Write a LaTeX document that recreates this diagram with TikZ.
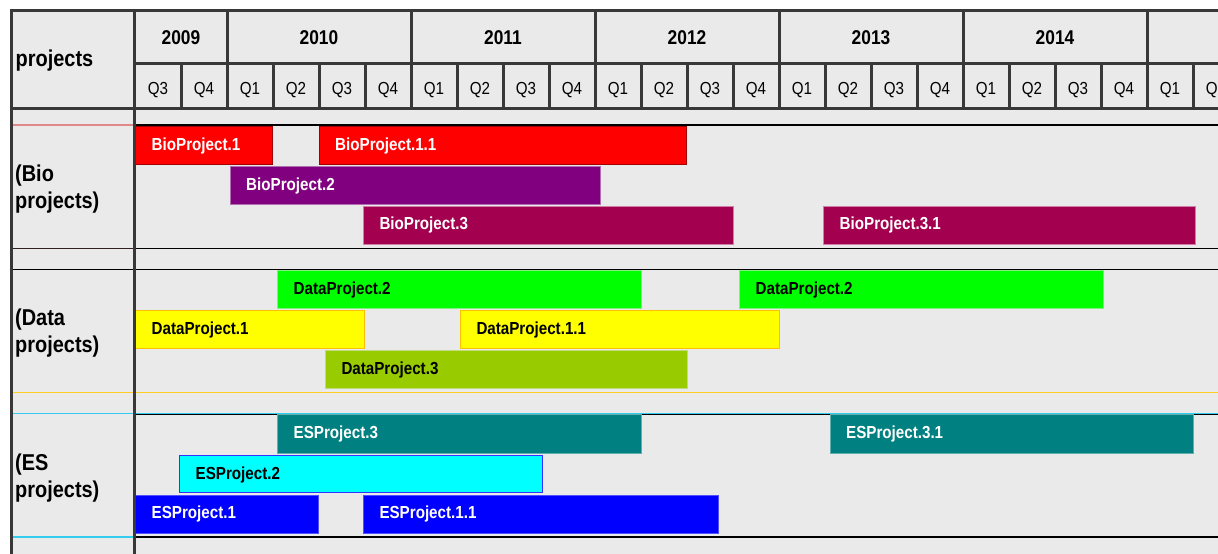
\documentclass[tikz,border=0pt]{standalone}
\usepackage{fontspec}
\newfontfamily\chartfont{Liberation Sans}[FakeStretch=0.87]
\definecolor{cellgray}{HTML}{EAEAEA}
\definecolor{gridgray}{HTML}{383838}
\definecolor{rulepink}{HTML}{E08888}
\definecolor{ruledark}{HTML}{302020}
\definecolor{ruleyellow}{HTML}{FFCC22}
\definecolor{rulecyan}{HTML}{33CCEE}
\definecolor{bioRed}{HTML}{FF0000}
\definecolor{bioRedEdge}{HTML}{A00000}
\definecolor{bioPurple}{HTML}{800080}
\definecolor{bioPurpleEdge}{HTML}{B070B0}
\definecolor{bioWine}{HTML}{A3004F}
\definecolor{bioWineEdge}{HTML}{D080A8}
\definecolor{dataGreen}{HTML}{00FF00}
\definecolor{dataGreenEdge}{HTML}{80F080}
\definecolor{dataYellow}{HTML}{FFFF00}
\definecolor{dataYellowEdge}{HTML}{FFC000}
\definecolor{dataOlive}{HTML}{99CC00}
\definecolor{dataOliveEdge}{HTML}{C0DC80}
\definecolor{esTeal}{HTML}{008080}
\definecolor{esTealEdge}{HTML}{60B0B0}
\definecolor{esCyan}{HTML}{00FFFF}
\definecolor{esCyanEdge}{HTML}{3333FF}
\definecolor{esBlue}{HTML}{0000FF}
\definecolor{esBlueEdge}{HTML}{5050FF}
% one project bar: name, x1, y1, x2, y2, fill, edge, text colour, label
\newcommand\projbar[9]{%
  \draw[barframe, fill=#6, draw=#7] (#2,#3) rectangle (#4,#5);
  \node[barlabel, text=#8] (#1) at (#2+16,#3+23.5) {#9};}
\begin{document}
\begin{tikzpicture}[x=1bp,y=-1bp,
  gridline/.style={draw=gridgray, line width=3bp},
  rowline/.style={line width=1.3bp},
  barframe/.style={line width=1bp},
  barlabel/.style={font=\chartfont\bfseries\fontsize{17.5}{20}\selectfont, anchor=base west, inner sep=0pt},
  grouplabel/.style={font=\chartfont\bfseries\fontsize{23}{26}\selectfont, anchor=base west, inner sep=0pt},
  yearlabel/.style={font=\chartfont\bfseries\fontsize{20}{22}\selectfont, anchor=base, inner sep=0pt},
  qlabel/.style={font=\chartfont\fontsize{17.5}{20}\selectfont, anchor=base, inner sep=0pt}]
\useasboundingbox (0,0) rectangle (1218,554);
\clip (0,0) rectangle (1218,554);
\fill[white] (0,0) rectangle (1218,554);
\fill[cellgray] (10,10) rectangle (1218,554);

% row rules of the chart body
\draw[rowline, black] (135,125) -- (1218,125);
\draw[rowline, rulepink] (10,125) -- (135,125);
\draw[rowline, black] (135,248.3) -- (1218,248.3);
\draw[rowline, ruledark] (10,248.3) -- (135,248.3);
\draw[rowline, black] (10,269.3) -- (1218,269.3);
\draw[rowline, ruleyellow] (10,392.3) -- (1218,392.3);
\draw[rowline, black] (135,414.3) -- (1218,414.3);
\draw[line width=1bp, rulecyan] (10,413.3) -- (1218,413.3);
\draw[rowline, black] (135,537) -- (1218,537);
\draw[rowline, rulecyan] (10,537) -- (135,537);

% header grid
\draw[gridline] (135,63.3) -- (1218,63.3);
\foreach \k in {1,...,23}{
  \pgfmathtruncatemacro\r{mod(\k,4)}
  \ifnum\r=2
    \draw[gridline] (135+46*\k,10) -- (135+46*\k,108.5);
  \else
    \draw[gridline] (135+46*\k,63.3) -- (135+46*\k,108.5);
  \fi}
\draw[gridline] (10,108.5) -- (1218,108.5);

% header texts
\node[grouplabel] (hproj) at (15.5,66.7) {projects};
\foreach \y/\c in {2009/181,2010/319,2011/503,2012/687,2013/871,2014/1055}
  \node[yearlabel] (y\y) at (\c,44.3) {\y};
\foreach \i in {0,...,23}{
  \pgfmathtruncatemacro\q{mod(\i+2,4)+1}
  \node[qlabel] (q\i) at (135+46*\i+23,94.3) {Q\q};}

% group labels
\node[grouplabel] (bioA) at (15,182) {(Bio};
\node[grouplabel] (bioB) at (15,208.5) {projects)};
\node[grouplabel] (dataA) at (15,326) {(Data};
\node[grouplabel] (dataB) at (15,352.5) {projects)};
\node[grouplabel] (esA) at (15,470.7) {(ES};
\node[grouplabel] (esB) at (15,497) {projects)};

% Bio projects
\projbar{bio1}{135.5}{126.7}{272.3}{164.3}{bioRed}{bioRedEdge}{white}{BioProject.1}
\projbar{bio11}{319}{126.7}{686.7}{164.3}{bioRed}{bioRedEdge}{white}{BioProject.1.1}
\projbar{bio2}{230}{166.7}{600}{204.8}{bioPurple}{bioPurpleEdge}{white}{BioProject.2}
\projbar{bio3}{363.3}{206.3}{733}{244.5}{bioWine}{bioWineEdge}{white}{BioProject.3}
\projbar{bio31}{823.5}{206.3}{1195.3}{244.5}{bioWine}{bioWineEdge}{white}{BioProject.3.1}

% Data projects
\projbar{data2}{277.5}{270.7}{641}{309}{dataGreen}{dataGreenEdge}{black}{DataProject.2}
\projbar{data2b}{739.5}{270.7}{1103}{309}{dataGreen}{dataGreenEdge}{black}{DataProject.2}
\projbar{data1}{135.5}{311}{364.5}{348.5}{dataYellow}{dataYellowEdge}{black}{DataProject.1}
\projbar{data11}{460.3}{311}{779}{348.5}{dataYellow}{dataYellowEdge}{black}{DataProject.1.1}
\projbar{data3}{325.3}{350.7}{687}{389}{dataOlive}{dataOliveEdge}{black}{DataProject.3}

% ES projects
\projbar{es3}{277.5}{415}{641}{453.3}{esTeal}{esTealEdge}{white}{ESProject.3}
\projbar{es31}{830}{415}{1193.3}{453.3}{esTeal}{esTealEdge}{white}{ESProject.3.1}
\projbar{es2}{179.5}{455.7}{542.3}{492.7}{esCyan}{esCyanEdge}{black}{ESProject.2}
\projbar{es1}{135.5}{495}{318.7}{533.5}{esBlue}{esBlueEdge}{white}{ESProject.1}
\projbar{es11}{363.3}{495}{718.7}{533.5}{esBlue}{esBlueEdge}{white}{ESProject.1.1}

% outer frame and label column divider
\draw[gridline] (134.7,10) -- (134.7,554);
\draw[gridline] (10,10.7) -- (1218,10.7);
\draw[gridline] (11.2,9.2) -- (11.2,554);
\end{tikzpicture}
\end{document}
